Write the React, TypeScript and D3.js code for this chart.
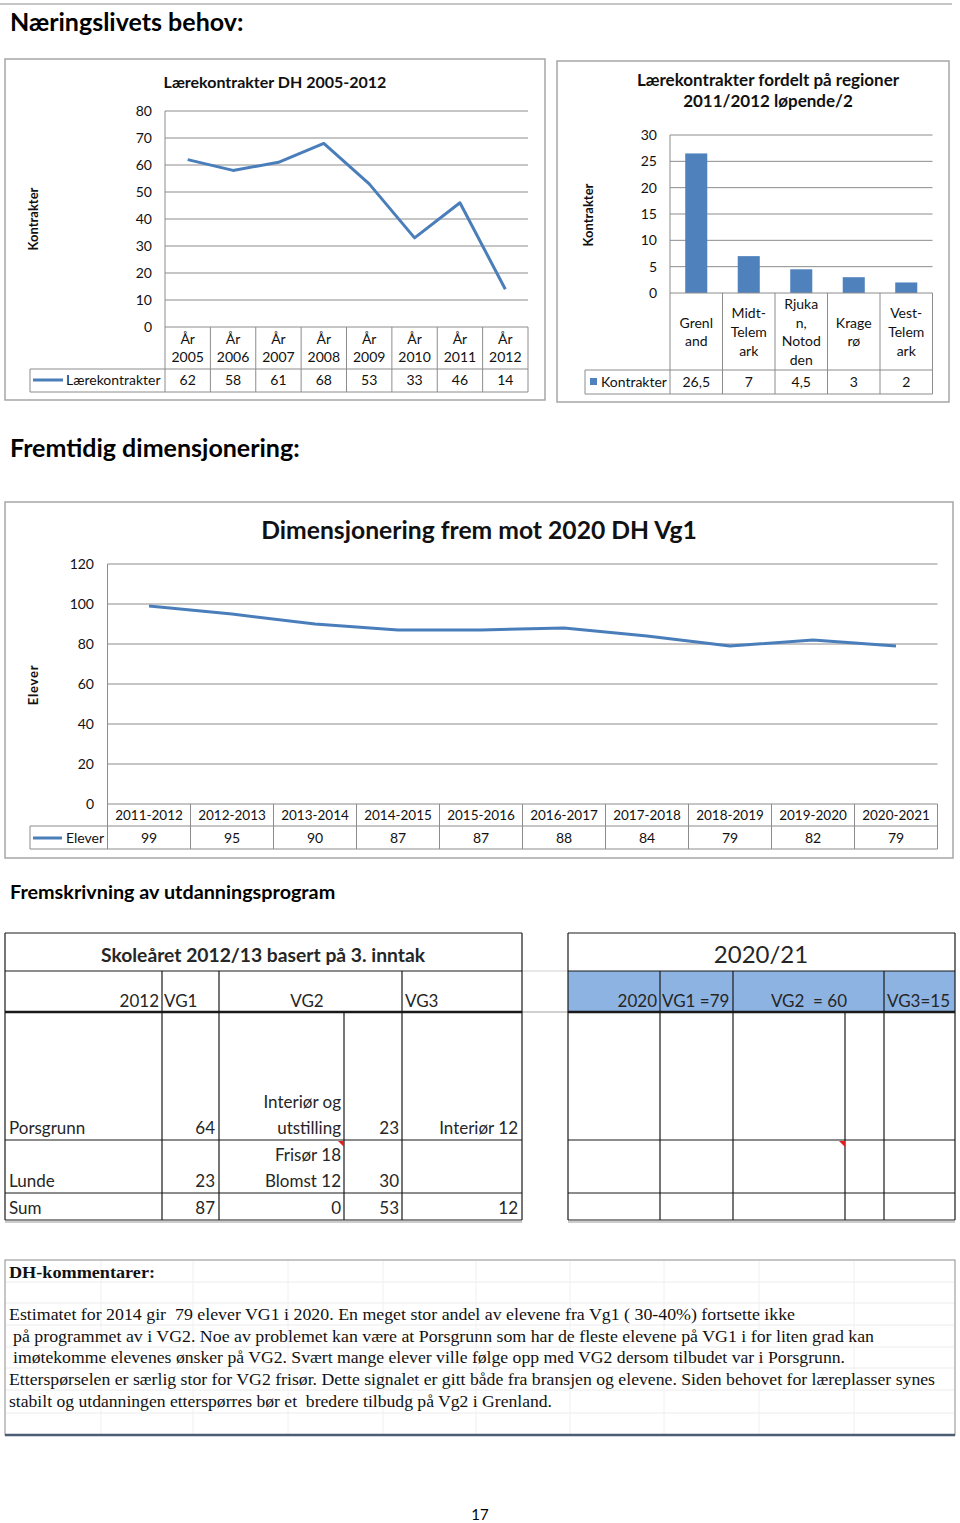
import React from 'react';
import * as d3 from 'd3';

const FONT = 'Lato, Carlito, Calibri, sans-serif';
const SERIF = '"Liberation Serif", "Times New Roman", serif';
const BLUE = '#4a7ebb';
const BAR = '#4f81bd';
const GRID = '#8c8c8c';
const INK = '#111';

// Lærekontrakter DH 2005-2012
const contractYears = ['2005', '2006', '2007', '2008', '2009', '2010', '2011', '2012'];
const contracts = [62, 58, 61, 68, 53, 33, 46, 14];
const contractTicks = [0, 10, 20, 30, 40, 50, 60, 70, 80];

// Lærekontrakter fordelt på regioner 2011/2012
const regions = ['Grenland', 'Midt-Telemark', 'Rjukan, Notodden', 'Kragerø', 'Vest-Telemark'];
const regionLabelLines = [['Grenl', 'and'], ['Midt-', 'Telem', 'ark'], ['Rjuka', 'n,', 'Notod', 'den'], ['Krage', 'rø'], ['Vest-', 'Telem', 'ark']];
const regionContracts = [26.5, 7, 4.5, 3, 2];
const regionTicks = [0, 5, 10, 15, 20, 25, 30];

// Dimensjonering frem mot 2020 DH Vg1
const schoolYears = ['2011-2012', '2012-2013', '2013-2014', '2014-2015', '2015-2016', '2016-2017', '2017-2018', '2018-2019', '2019-2020', '2020-2021'];
const pupils = [99, 95, 90, 87, 87, 88, 84, 79, 82, 79];
const pupilTicks = [0, 20, 40, 60, 80, 100, 120];

// Fremskrivning av utdanningsprogram
const sheetRows = ['Porsgrunn', 'Lunde', 'Sum'];
const vg1Counts = ['64', '23', '87'];
const vg2Programs = [['Interiør og', 'utstilling'], ['Frisør 18', 'Blomst 12'], ['0']];
const vg2Counts = ['23', '30', '53'];
const vg3Counts = ['Interiør 12', '', '12'];

const comments = [
  'Estimatet for 2014 gir  79 elever VG1 i 2020. En meget stor andel av elevene fra Vg1 ( 30-40%) fortsette ikke',
  'på programmet av i VG2. Noe av problemet kan være at Porsgrunn som har de fleste elevene på VG1 i for liten grad kan',
  'imøtekomme elevenes ønsker på VG2. Svært mange elever ville følge opp med VG2 dersom tilbudet var i Porsgrunn.',
  'Etterspørselen er særlig stor for VG2 frisør. Dette signalet er gitt både fra bransjen og elevene. Siden behovet for læreplasser synes',
  'stabilt og utdanningen etterspørres bør et  bredere tilbudg på Vg2 i Grenland.',
];
const commentX = [9, 13, 13, 9, 9];
const commentEnd = [795, 874, 845, 935, 552];

const fmt = (v: number) => String(v).replace('.', ',');

function ContractsChart() {
  const x = d3.scaleBand<string>().domain(contractYears).range([165, 528]);
  const y = d3.scaleLinear().domain([0, 80]).range([327, 111]);
  const cx = (d: string) => (x(d) as number) + x.bandwidth() / 2;
  const line = d3.line<number>().x((_, i) => cx(contractYears[i])).y((d) => y(d));
  const rowY = 369;
  const bottom = 392;
  return (
    <g fontFamily={FONT} fill={INK}>
      <rect x={5} y={59} width={540} height={341} fill="#fff" stroke="#a6a6a6" strokeWidth={1.5} />
      <text x={275} y={88} textAnchor="middle" fontSize={16} fontWeight="bold">Lærekontrakter DH 2005-2012</text>
      <text transform="translate(38,219) rotate(-90)" textAnchor="middle" fontSize={13} fontWeight="bold">Kontrakter</text>
      {contractTicks.map((t) => (
        <g key={t}>
          {t > 0 && <line x1={165} x2={528} y1={y(t)} y2={y(t)} stroke={GRID} />}
          <text x={152} y={y(t)} dy="0.35em" textAnchor="end" fontSize={14}>{t}</text>
        </g>
      ))}
      <line x1={165} x2={528} y1={y(0)} y2={y(0)} stroke={GRID} />
      <line x1={165} x2={165} y1={y(80)} y2={bottom} stroke={GRID} />
      {contractYears.map((d, i) => (
        <g key={d}>
          {i > 0 && <line x1={x(d)} x2={x(d)} y1={y(0)} y2={bottom} stroke={GRID} />}
          <text x={cx(d)} y={344} textAnchor="middle" fontSize={14}>År</text>
          <text x={cx(d)} y={362} textAnchor="middle" fontSize={14}>{d}</text>
          <text x={cx(d)} y={385} textAnchor="middle" fontSize={14}>{contracts[i]}</text>
        </g>
      ))}
      <line x1={528} x2={528} y1={y(0)} y2={bottom} stroke={GRID} />
      <line x1={30} x2={528} y1={rowY} y2={rowY} stroke={GRID} />
      <line x1={30} x2={528} y1={bottom} y2={bottom} stroke={GRID} />
      <line x1={30} x2={30} y1={rowY} y2={bottom} stroke={GRID} />
      <line x1={33} x2={63} y1={380} y2={380} stroke={BLUE} strokeWidth={3} />
      <text x={66} y={385} fontSize={14}>Lærekontrakter</text>
      <path d={line(contracts) as string} fill="none" stroke={BLUE} strokeWidth={3} strokeLinejoin="round" />
    </g>
  );
}

function RegionChart() {
  const x = d3.scaleBand<string>().domain(regions).range([670, 932.5]);
  const y = d3.scaleLinear().domain([0, 30]).range([293, 135]);
  const cx = (d: string) => (x(d) as number) + x.bandwidth() / 2;
  const barW = x.bandwidth() * 0.42;
  const rowY = 370;
  const bottom = 394;
  return (
    <g fontFamily={FONT} fill={INK}>
      <rect x={557} y={61} width={392} height={341} fill="#fff" stroke="#a6a6a6" strokeWidth={1.5} />
      <text x={768} y={86} textAnchor="middle" fontSize={17} fontWeight="bold">Lærekontrakter fordelt på regioner</text>
      <text x={768} y={107} textAnchor="middle" fontSize={17} fontWeight="bold">2011/2012 løpende/2</text>
      <text transform="translate(593,215) rotate(-90)" textAnchor="middle" fontSize={13} fontWeight="bold">Kontrakter</text>
      {regionTicks.map((t) => (
        <g key={t}>
          {t > 0 && <line x1={670} x2={932.5} y1={y(t)} y2={y(t)} stroke={GRID} />}
          <text x={657} y={y(t)} dy="0.35em" textAnchor="end" fontSize={14}>{t}</text>
        </g>
      ))}
      {regions.map((d, i) => (
        <rect key={d} x={cx(d) - barW / 2} y={y(regionContracts[i])} width={barW} height={y(0) - y(regionContracts[i])} fill={BAR} />
      ))}
      <line x1={670} x2={932.5} y1={y(0)} y2={y(0)} stroke={GRID} />
      <line x1={670} x2={670} y1={y(30)} y2={bottom} stroke={GRID} />
      {regions.map((d, i) => {
        const lines = regionLabelLines[i];
        const start = 332 - ((lines.length - 1) * 18.7) / 2;
        return (
          <g key={d}>
            {i > 0 && <line x1={x(d)} x2={x(d)} y1={y(0)} y2={bottom} stroke={GRID} />}
            {lines.map((l, j) => (
              <text key={j} x={cx(d)} y={start + j * 18.7} dy="0.35em" textAnchor="middle" fontSize={14}>{l}</text>
            ))}
            <text x={cx(d)} y={387} textAnchor="middle" fontSize={14}>{fmt(regionContracts[i])}</text>
          </g>
        );
      })}
      <line x1={932.5} x2={932.5} y1={y(0)} y2={bottom} stroke={GRID} />
      <line x1={585} x2={932.5} y1={rowY} y2={rowY} stroke={GRID} />
      <line x1={585} x2={932.5} y1={bottom} y2={bottom} stroke={GRID} />
      <line x1={585} x2={585} y1={rowY} y2={bottom} stroke={GRID} />
      <rect x={590} y={378} width={7} height={7} fill={BAR} />
      <text x={601} y={387} fontSize={14}>Kontrakter</text>
    </g>
  );
}

function DimensionChart() {
  const x = d3.scaleBand<string>().domain(schoolYears).range([107.5, 937.5]);
  const y = d3.scaleLinear().domain([0, 120]).range([804, 564]);
  const cx = (d: string) => (x(d) as number) + x.bandwidth() / 2;
  const line = d3.line<number>().x((_, i) => cx(schoolYears[i])).y((d) => y(d));
  const rowY = 826;
  const bottom = 849;
  return (
    <g fontFamily={FONT} fill={INK}>
      <rect x={5} y={502} width={948} height={356} fill="#fff" stroke="#a6a6a6" strokeWidth={1.5} />
      <text x={479} y={539} textAnchor="middle" fontSize={24.7} fontWeight="bold">Dimensjonering frem mot 2020 DH Vg1</text>
      <text transform="translate(38,685) rotate(-90)" textAnchor="middle" fontSize={13} fontWeight="bold" letterSpacing={0.8}>Elever</text>
      {pupilTicks.map((t) => (
        <g key={t}>
          {t > 0 && <line x1={107.5} x2={937.5} y1={y(t)} y2={y(t)} stroke={GRID} />}
          <text x={94} y={y(t)} dy="0.35em" textAnchor="end" fontSize={14}>{t}</text>
        </g>
      ))}
      <line x1={107.5} x2={937.5} y1={y(0)} y2={y(0)} stroke={GRID} />
      <line x1={107.5} x2={107.5} y1={y(120)} y2={bottom} stroke={GRID} />
      {schoolYears.map((d, i) => (
        <g key={d}>
          {i > 0 && <line x1={x(d)} x2={x(d)} y1={y(0)} y2={bottom} stroke={GRID} />}
          <text x={cx(d)} y={820} textAnchor="middle" fontSize={13.5}>{d}</text>
          <text x={cx(d)} y={843} textAnchor="middle" fontSize={14}>{pupils[i]}</text>
        </g>
      ))}
      <line x1={937.5} x2={937.5} y1={y(0)} y2={bottom} stroke={GRID} />
      <line x1={30} x2={937.5} y1={rowY} y2={rowY} stroke={GRID} />
      <line x1={30} x2={937.5} y1={bottom} y2={bottom} stroke={GRID} />
      <line x1={30} x2={30} y1={rowY} y2={bottom} stroke={GRID} />
      <line x1={33} x2={62} y1={838} y2={838} stroke={BLUE} strokeWidth={3} />
      <text x={66} y={843} fontSize={14}>Elever</text>
      <path d={line(pupils) as string} fill="none" stroke={BLUE} strokeWidth={3} strokeLinejoin="round" />
    </g>
  );
}

function ProgramSheet() {
  const rowBottoms = [1140, 1193, 1220];
  const hLines = [933, 971, 1012, 1140, 1193, 1220];
  const dark = '#1a1a1a';
  return (
    <g fontFamily={FONT} fill="#262626">
      <line x1={522} x2={568} y1={971} y2={971} stroke="#d0d0d0" />
      <line x1={522} x2={568} y1={1012} y2={1012} stroke="#d0d0d0" strokeWidth={2} />
      <rect x={568} y={971} width={387} height={41} fill="#8db3e2" />
      {hLines.map((h) => (
        <g key={h}>
          <line x1={5} x2={522} y1={h} y2={h} stroke={dark} strokeWidth={h === 1012 ? 2.5 : 1.2} />
          <line x1={568} x2={955} y1={h} y2={h} stroke={dark} strokeWidth={h === 1012 ? 2.5 : 1.2} />
        </g>
      ))}
      <line x1={5} x2={522} y1={1222} y2={1222} stroke="#999" />
      <line x1={568} x2={955} y1={1222} y2={1222} stroke="#999" />
      {[5, 522, 568, 955].map((v) => (
        <line key={v} x1={v} x2={v} y1={933} y2={1220} stroke={dark} strokeWidth={1.2} />
      ))}
      {[162, 219, 402, 660, 733, 884].map((v) => (
        <line key={v} x1={v} x2={v} y1={971} y2={1220} stroke={dark} strokeWidth={1.2} />
      ))}
      {[344, 845].map((v) => (
        <g key={v}>
          <line x1={v} x2={v} y1={1012} y2={1220} stroke={dark} strokeWidth={1.2} />
          <path d={`M${v - 6},1141 L${v},1141 L${v},1147 Z`} fill="#e0201c" />
        </g>
      ))}
      <text x={263} y={962} textAnchor="middle" fontSize={18} fontWeight="bold" textLength={324} lengthAdjust="spacingAndGlyphs">Skoleåret 2012/13 basert på 3. inntak</text>
      <text x={761} y={963} textAnchor="middle" fontSize={24}>2020/21</text>
      <g fontSize={17}>
        <text x={159} y={1007} textAnchor="end">2012</text>
        <text x={164} y={1007}>VG1</text>
        <text x={307} y={1007} textAnchor="middle">VG2</text>
        <text x={405} y={1007}>VG3</text>
        <text x={657} y={1007} textAnchor="end">2020</text>
        <text x={662} y={1007}>VG1 =79</text>
        <text x={809} y={1007} textAnchor="middle" style={{ whiteSpace: 'pre' }}>{'VG2  = 60'}</text>
        <text x={887} y={1007}>VG3=15</text>
        {sheetRows.map((r, i) => {
          const base = rowBottoms[i] - 6;
          return (
            <g key={r}>
              <text x={9} y={base}>{r}</text>
              <text x={215} y={base} textAnchor="end">{vg1Counts[i]}</text>
              {vg2Programs[i].map((p, j, arr) => (
                <text key={p} x={341} y={base - (arr.length - 1 - j) * 26} textAnchor="end">{p}</text>
              ))}
              <text x={399} y={base} textAnchor="end">{vg2Counts[i]}</text>
              <text x={518} y={base} textAnchor="end">{vg3Counts[i]}</text>
            </g>
          );
        })}
      </g>
    </g>
  );
}

function CommentBox() {
  const gridYs = [1282, 1303, 1325, 1347, 1368, 1390, 1413];
  const gridXs = [101, 193, 288, 383, 476, 570, 664, 759, 854];
  const baselines = [1320, 1342, 1363, 1385, 1407];
  return (
    <g>
      <rect x={5} y={1260} width={950} height={175} fill="#fff" stroke="#8c8c8c" />
      {gridYs.map((g) => (
        <line key={g} x1={6} x2={954} y1={g} y2={g} stroke="#ececec" />
      ))}
      {gridXs.map((g) => (
        <line key={g} x1={g} x2={g} y1={1261} y2={1434} stroke="#f0f0f0" />
      ))}
      <line x1={5} x2={955} y1={1435} y2={1435} stroke="#4b5d73" strokeWidth={2.5} />
      <g fontFamily={SERIF} fill="#111" fontSize={16}>
        <text x={9} y={1278} fontWeight="bold" textLength={146} lengthAdjust="spacingAndGlyphs">DH-kommentarer:</text>
        {comments.map((c, i) => (
          <text key={i} x={commentX[i]} y={baselines[i]} textLength={commentEnd[i] - commentX[i]} lengthAdjust="spacingAndGlyphs" style={{ whiteSpace: 'pre' }}>{c}</text>
        ))}
      </g>
    </g>
  );
}

export default function App() {
  return (
    <svg width={960} height={1523} viewBox="0 0 960 1523" style={{ position: 'absolute', left: 0, top: 0, background: '#fff' }}>
      <rect width={960} height={1523} fill="#fff" />
      <line x1={0} x2={952} y1={4} y2={4} stroke="#b5b5b5" strokeWidth={1.5} />
      <g fontFamily={FONT} fontWeight="bold" fill="#000">
        <text x={10} y={31} fontSize={25}>Næringslivets behov:</text>
        <text x={10} y={457} fontSize={25}>Fremtidig dimensjonering:</text>
        <text x={10} y={899} fontSize={19.8}>Fremskrivning av utdanningsprogram</text>
      </g>
      <ContractsChart />
      <RegionChart />
      <DimensionChart />
      <ProgramSheet />
      <CommentBox />
      <text x={480} y={1520} textAnchor="middle" fontFamily={FONT} fontSize={15}>17</text>
    </svg>
  );
}
